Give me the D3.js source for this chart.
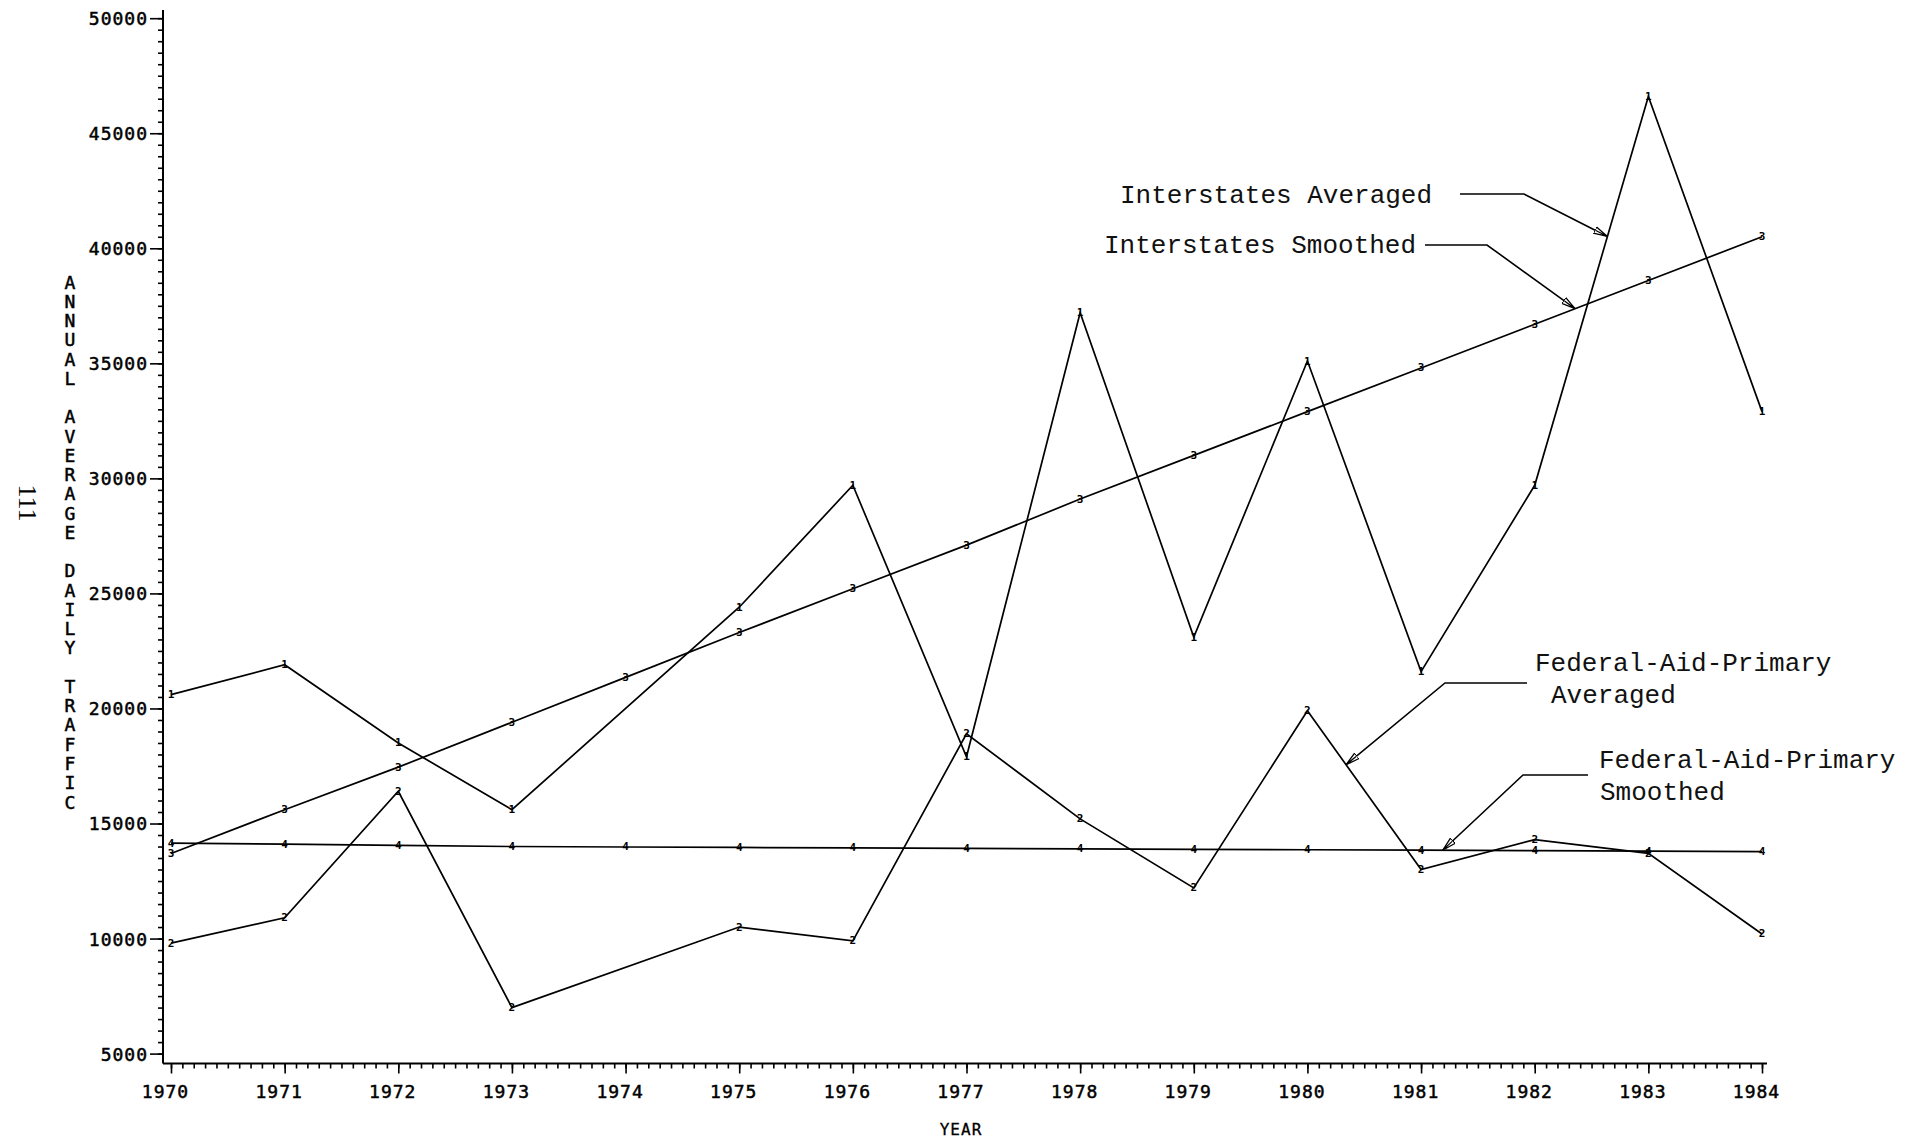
<!DOCTYPE html>
<html>
<head>
<meta charset="utf-8">
<script src="https://cdn.jsdelivr.net/npm/d3@7"></script>
<style>
  body { margin: 0; background: #fff; }
  svg { display: block; }
</style>
</head>
<body>
<svg id="chart" width="1923" height="1139"></svg>
<script>
// Annual average daily traffic, 1970-1984
const years = [1970, 1971, 1972, 1973, 1974, 1975, 1976, 1977, 1978, 1979, 1980, 1981, 1982, 1983, 1984];

// Series 1: Interstates, averaged (no 1974 observation)
const interstatesAveraged = [20600, 21900, 18500, 15600, null, 24400, 29700, 17900, 37200, 23100, 35100, 21600, 29700, 46600, 32900];
// Series 2: Federal-Aid-Primary, averaged (no 1974 observation)
const fapAveraged = [9800, 10900, 16400, 7000, null, 10500, 9900, 18900, 15200, 12200, 19900, 13000, 14300, 13700, 10200];
// Series 3: Interstates, smoothed
const interstatesSmoothed = [13700, 15600, 17450, 19400, 21350, 23300, 25200, 27100, 29100, 31000, 32900, 34800, 36700, 38600, 40500];
// Series 4: Federal-Aid-Primary, smoothed
const fapSmoothed = [14150, 14100, 14050, 14000, 13980, 13960, 13940, 13920, 13900, 13880, 13860, 13840, 13820, 13800, 13780];

const yTickValues = [5000, 10000, 15000, 20000, 25000, 30000, 35000, 40000, 45000, 50000];
const yTitle = "ANNUAL AVERAGE DAILY TRAFFIC";
const xTitle = "YEAR";
const pageNumber = "111";

const seriesList = [
  { name: "Interstates Averaged", values: interstatesAveraged, symbol: "1" },
  { name: "Federal-Aid-Primary Averaged", values: fapAveraged, symbol: "2" },
  { name: "Interstates Smoothed", values: interstatesSmoothed, symbol: "3" },
  { name: "Federal-Aid-Primary Smoothed", values: fapSmoothed, symbol: "4" }
];

const svg = d3.select("#chart");
const plotFont = "'DejaVu Sans Mono', monospace";
const typeFont = "'Liberation Mono', 'Courier New', monospace";

const x = d3.scaleLinear().domain([1970, 1984]).range([171, 1762]);
const y = d3.scaleLinear().domain([5000, 50000]).range([1053.6, 18.2]);

const axisLeftX = 163;
const axisBottomY = 1063.5;

// Axis frame lines
svg.append("line")
  .attr("x1", axisLeftX).attr("x2", axisLeftX)
  .attr("y1", 10).attr("y2", axisBottomY)
  .attr("stroke", "#000").attr("stroke-width", 2);
svg.append("line")
  .attr("x1", axisLeftX).attr("x2", 1767)
  .attr("y1", axisBottomY).attr("y2", axisBottomY)
  .attr("stroke", "#000").attr("stroke-width", 2);

// Y axis: minor ticks every 500, labelled ticks every 5000
const yMinor = svg.append("g")
  .attr("transform", `translate(${axisLeftX},0)`)
  .call(d3.axisLeft(y).tickValues(d3.range(5000, 50001, 500)).tickSize(5).tickFormat(""));
const yMajor = svg.append("g")
  .attr("transform", `translate(${axisLeftX},0)`)
  .call(d3.axisLeft(y).tickValues(yTickValues).tickSize(13).tickPadding(2).tickFormat(d3.format("d")));

// X axis: minor ticks every tenth of a year, labelled ticks each year
const xMinor = svg.append("g")
  .attr("transform", `translate(0,${axisBottomY})`)
  .call(d3.axisBottom(x).tickValues(d3.range(0, 141).map(i => 1970 + i / 10)).tickSize(5).tickFormat(""));
const xMajor = svg.append("g")
  .attr("transform", `translate(0,${axisBottomY})`)
  .call(d3.axisBottom(x).tickValues(years).tickSize(10).tickFormat(d3.format("d")));

[yMinor, yMajor, xMinor, xMajor].forEach(g => {
  g.select(".domain").remove();
  g.selectAll(".tick line").attr("stroke", "#000").attr("stroke-width", 1.6);
});
yMajor.selectAll(".tick text")
  .attr("font-family", plotFont).attr("font-size", 18)
  .attr("letter-spacing", "1px").attr("fill", "#000")
  .attr("stroke", "#000").attr("stroke-width", 0.5)
  .attr("dy", "0.36em");
xMajor.selectAll(".tick text")
  .attr("font-family", plotFont).attr("font-size", 18)
  .attr("letter-spacing", "1px").attr("fill", "#000")
  .attr("stroke", "#000").attr("stroke-width", 0.5)
  .attr("y", 34.5).attr("dy", 0).attr("dx", -6);

// Axis titles
svg.append("g").selectAll("text")
  .data(yTitle.split(""))
  .join("text")
  .attr("x", 70)
  .attr("y", (d, i) => 282 + i * 19.26)
  .attr("text-anchor", "middle")
  .attr("dominant-baseline", "central")
  .attr("font-family", plotFont).attr("font-size", 18)
  .attr("stroke", "#000").attr("stroke-width", 0.5)
  .text(d => d);

svg.append("text")
  .attr("x", 961).attr("y", 1135)
  .attr("text-anchor", "middle")
  .attr("font-family", plotFont).attr("font-size", 16)
  .attr("letter-spacing", "1px")
  .attr("stroke", "#000").attr("stroke-width", 0.3)
  .text(xTitle);

svg.append("text")
  .attr("transform", "translate(19,503) rotate(90)")
  .attr("text-anchor", "middle")
  .attr("font-family", "'Liberation Serif', serif").attr("font-size", 26)
  .text(pageNumber);

// Series lines, joining the observed years
const line = d3.line().x(d => x(d.year)).y(d => y(d.value));

seriesList.forEach(s => {
  const pts = years.map((yr, i) => ({ year: yr, value: s.values[i] })).filter(d => d.value != null);
  svg.append("path")
    .datum(pts)
    .attr("d", line)
    .attr("fill", "none")
    .attr("stroke", "#000")
    .attr("stroke-width", 1.7)
    .attr("stroke-linejoin", "miter");
  svg.append("g").selectAll("text")
    .data(pts)
    .join("text")
    .attr("x", d => x(d.year))
    .attr("y", d => y(d.value))
    .attr("text-anchor", "middle")
    .attr("dominant-baseline", "central")
    .attr("font-family", plotFont).attr("font-size", 11).attr("font-weight", "bold")
    .text(s.symbol);
});

// Open arrowhead for the annotation leaders
svg.append("defs").append("marker")
  .attr("id", "arrowhead")
  .attr("markerUnits", "userSpaceOnUse")
  .attr("viewBox", "0 -5 14 10")
  .attr("refX", 14).attr("refY", 0)
  .attr("markerWidth", 14).attr("markerHeight", 10)
  .attr("orient", "auto")
  .append("path")
  .attr("d", "M0,-3.5L14,0L0,3.5Z M1,0L13,0")
  .attr("fill", "#fff").attr("stroke", "#000").attr("stroke-width", 1.3);

// Value of a series at a fractional year, along its drawn segment
function valueAt(values, t) {
  const pts = years.map((yr, i) => ({ year: yr, value: values[i] })).filter(d => d.value != null);
  for (let i = 0; i < pts.length - 1; i++) {
    const a = pts[i], b = pts[i + 1];
    if (t >= a.year && t <= b.year) {
      const f = (t - a.year) / (b.year - a.year);
      return a.value + f * (b.value - a.value);
    }
  }
  return pts[pts.length - 1].value;
}

const notes = [
  { values: interstatesAveraged, at: 1982.64, start: [1460, 194], elbow: [1524, 194],
    text: [{ s: "Interstates Averaged", x: 1120, y: 203 }] },
  { values: interstatesSmoothed, at: 1982.355, start: [1425, 245], elbow: [1487, 245],
    text: [{ s: "Interstates Smoothed", x: 1104, y: 253 }] },
  { values: fapAveraged, at: 1980.34, start: [1527, 683], elbow: [1445, 683],
    text: [{ s: "Federal-Aid-Primary", x: 1535, y: 671 }, { s: "Averaged", x: 1551, y: 703 }] },
  { values: fapSmoothed, at: 1981.19, start: [1588, 775], elbow: [1523, 775],
    text: [{ s: "Federal-Aid-Primary", x: 1599, y: 768 }, { s: "Smoothed", x: 1600, y: 800 }] }
];

notes.forEach(n => {
  const tip = [x(n.at), y(valueAt(n.values, n.at))];
  svg.append("path")
    .attr("d", d3.line()([n.start, n.elbow, tip]))
    .attr("fill", "none")
    .attr("stroke", "#000")
    .attr("stroke-width", 1.6)
    .attr("marker-end", "url(#arrowhead)");
  n.text.forEach(t => {
    svg.append("text")
      .attr("x", t.x).attr("y", t.y)
      .attr("font-family", typeFont).attr("font-size", 26)
      .attr("fill", "#111")
      .text(t.s);
  });
});
</script>
</body>
</html>
